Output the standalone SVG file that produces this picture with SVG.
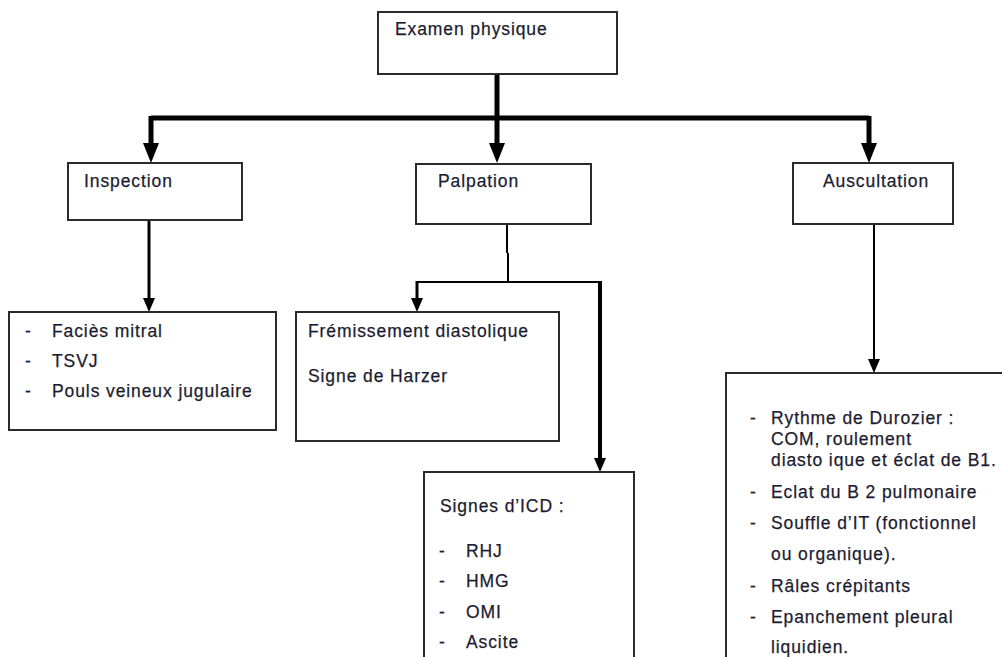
<svg xmlns="http://www.w3.org/2000/svg" width="1002" height="657" viewBox="0 0 1002 657">
  <style>
    .box { fill: #ffffff; stroke: #2b2b2b; stroke-width: 2; }
    .t { font-family: "Liberation Sans", Arial, sans-serif; font-size: 17.5px; letter-spacing: 0.9px; fill: #1c1c30; stroke: #1c1c30; stroke-width: 0.25; }
    .wire { fill: none; stroke: #000000; stroke-linecap: butt; stroke-linejoin: miter; }
  </style>
  <defs>
    <marker id="headL" markerUnits="userSpaceOnUse" markerWidth="20" markerHeight="18" refX="0" refY="8" orient="auto">
      <path d="M0,0 L20,8 L0,16 z" fill="#000"/>
    </marker>
    <marker id="headS" markerUnits="userSpaceOnUse" markerWidth="14" markerHeight="14" refX="0" refY="6" orient="auto">
      <path d="M0,0 L14,6 L0,12 z" fill="#000"/>
    </marker>
  </defs>

  <!-- connectors -->
  <g id="connectors">
    <path class="wire" stroke-width="5" d="M497,74 V118"/>
    <path class="wire" stroke-width="5" d="M151,118 H869"/>
    <path class="wire" stroke-width="5" d="M151,116 V143" marker-end="url(#headL)"/>
    <path class="wire" stroke-width="5" d="M497,118 V143" marker-end="url(#headL)"/>
    <path class="wire" stroke-width="5" d="M869,116 V143" marker-end="url(#headL)"/>

    <path class="wire" stroke-width="3" d="M149,220 V298" marker-end="url(#headS)"/>

    <path class="wire" stroke-width="2" d="M507,224 V253 M508,253 V282"/>
    <path class="wire" stroke-width="2" d="M416,282 H601"/>
    <path class="wire" stroke-width="3" d="M417,281 V298" marker-end="url(#headS)"/>
    <path class="wire" stroke-width="4" d="M600,281 V458" marker-end="url(#headS)"/>

    <path class="wire" stroke-width="2" d="M874,224 V359" marker-end="url(#headS)"/>
  </g>

  <!-- nodes -->
  <g id="examen">
    <rect class="box" x="378" y="12" width="239" height="62"/>
    <text class="t" x="395" y="35">Examen physique</text>
  </g>

  <g id="inspection">
    <rect class="box" x="68" y="163" width="174" height="57"/>
    <text class="t" x="84" y="187">Inspection</text>
  </g>

  <g id="palpation">
    <rect class="box" x="416" y="164" width="175" height="60"/>
    <text class="t" x="438" y="187">Palpation</text>
  </g>

  <g id="auscultation">
    <rect class="box" x="793" y="163" width="160" height="61"/>
    <text class="t" x="823" y="187">Auscultation</text>
  </g>

  <g id="inspection-signs">
    <rect class="box" x="9" y="312" width="267" height="118"/>
    <text class="t" x="25" y="337">-</text>
    <text class="t" x="52" y="337">Faciès mitral</text>
    <text class="t" x="25" y="367">-</text>
    <text class="t" x="52" y="367">TSVJ</text>
    <text class="t" x="25" y="397">-</text>
    <text class="t" x="52" y="397">Pouls veineux jugulaire</text>
  </g>

  <g id="palpation-signs">
    <rect class="box" x="296" y="312" width="263" height="129"/>
    <text class="t" x="308" y="337">Frémissement diastolique</text>
    <text class="t" x="308" y="382">Signe de Harzer</text>
  </g>

  <g id="icd-signs">
    <rect class="box" x="424" y="472" width="210" height="200"/>
    <text class="t" x="440" y="512">Signes d’ICD :</text>
    <text class="t" x="439" y="557">-</text>
    <text class="t" x="466" y="557">RHJ</text>
    <text class="t" x="439" y="587">-</text>
    <text class="t" x="466" y="587">HMG</text>
    <text class="t" x="439" y="618">-</text>
    <text class="t" x="466" y="618">OMI</text>
    <text class="t" x="439" y="648">-</text>
    <text class="t" x="466" y="648">Ascite</text>
  </g>

  <g id="auscultation-signs">
    <rect class="box" x="726" y="373" width="290" height="300"/>
    <text class="t" x="750" y="424">-</text>
    <text class="t" x="771" y="424">Rythme de Durozier :</text>
    <text class="t" x="771" y="445">COM, roulement</text>
    <text class="t" x="771" y="466">diasto ique et éclat de B1.</text>
    <text class="t" x="750" y="498">-</text>
    <text class="t" x="771" y="498">Eclat du B 2 pulmonaire</text>
    <text class="t" x="750" y="529">-</text>
    <text class="t" x="771" y="529">Souffle d’IT (fonctionnel</text>
    <text class="t" x="771" y="560">ou organique).</text>
    <text class="t" x="750" y="592">-</text>
    <text class="t" x="771" y="592">Râles crépitants</text>
    <text class="t" x="750" y="623">-</text>
    <text class="t" x="771" y="623">Epanchement pleural</text>
    <text class="t" x="771" y="653">liquidien.</text>
  </g>
</svg>
